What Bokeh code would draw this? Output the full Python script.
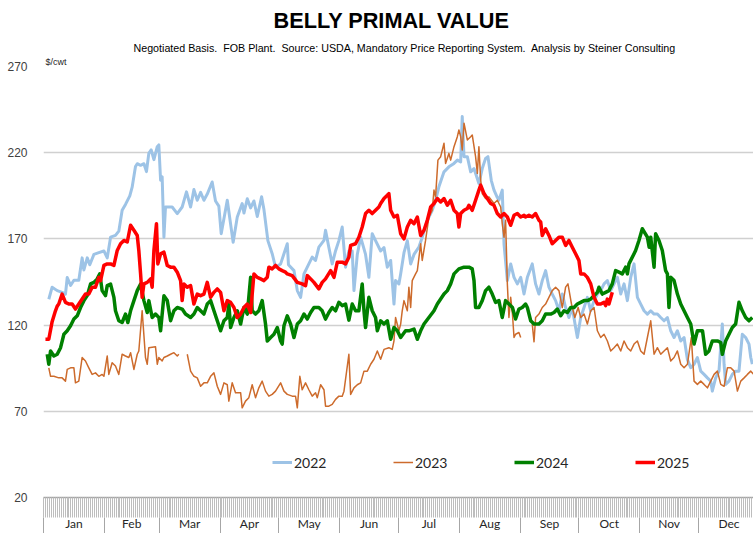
from bokeh.plotting import figure
from bokeh.models import (FixedTicker, LinearAxis, Legend, LegendItem, Title,
                          Range1d, CustomJSTickFormatter)
from bokeh.embed import file_html
from bokeh.resources import INLINE

NaN = float("nan")

# ---------------- data (day of year, $/cwt) ----------------
months = ["Jan", "Feb", "Mar", "Apr", "May", "Jun", "Jul", "Aug", "Sep", "Oct", "Nov", "Dec"]
month_starts = [0, 31, 59, 90, 120, 151, 181, 212, 243, 273, 304, 334, 365]
y_ticks = [20, 70, 120, 170, 220, 270]

d2022 = [2.7, 4.4, 7.0, 9.5, 11.2, 12.1, 13.8, 15.5, 18.0, 19.7, 20.6, 22.3, 23.6, 25.7, 28.2, 30.8, 32.5, 34.2,
         36.7, 38.4, 40.1, 41.8, 44.0, 45.2, 46.9, 47.8, 49.5, 51.2, 52.5, 53.7, 54.9, 56.3, 58.0, 58.8, 59.7, 60.5,
         61.4, 62.2, 65.6, 68.2, 70.7, 72.9, 75.0, 76.7, 78.4, 80.1, 81.8, 83.5, 86.0, 87.7, 89.4, 90.6, 93.7, 96.7,
         98.8, 101.3, 102.2, 103.9, 105.6, 107.3, 109.0, 111.2, 112.4, 114.4, 116.6, 118.3, 120.9, 122.6, 124.3,
         124.9, 127.7, 129.4, 131.1, 132.8, 135.3, 137.0, 138.7, 140.4, 143.0, 143.8, 145.5, 147.2, 148.9, 150.6,
         152.3, 154.0, 155.7, 157.4, 158.3, 160.0, 161.7, 164.2, 165.9, 167.6, 169.3, 171.9, 173.6, 175.3, 177.0,
         178.7, 179.5, 181.2, 182.1, 183.8, 185.5, 187.2, 188.9, 191.4, 193.1, 195.7, 198.2, 199.9, 201.6, 204.2,
         206.7, 209.3, 211.0, 212.7, 213.5, 214.4, 216.1, 217.8, 219.5, 222.0, 223.7, 225.4, 226.6, 228.3, 229.7,
         231.4, 232.2, 233.9, 234.8, 236.5, 238.2, 239.9, 241.6, 243.3, 245.0, 246.7, 249.2, 250.9, 252.6, 254.3,
         256.0, 257.7, 259.4, 261.1, 262.8, 264.5, 266.2, 267.9, 269.6, 271.3, 272.2, 273.9, 275.6, 277.3, 279.0,
         280.7, 282.4, 284.1, 285.8, 287.5, 289.2, 290.9, 292.6, 294.3, 296.0, 297.7, 299.4, 301.1, 302.8, 304.5,
         306.2, 307.9, 309.6, 311.3, 313.0, 314.7, 316.4, 318.1, 319.8, 321.5, 323.2, 324.9, 326.6, 328.3, 330.0,
         331.7, 333.4, 335.1, 336.8, 338.5, 340.2, 341.0, 342.7, 344.4, 346.1, 347.0, 347.8, 349.5, 351.2, 352.9,
         354.6, 356.3, 358.0, 359.7, 360.6, 361.4]
v2022 = [135, 142, 140, 139, 138, 147.6, 143, 146, 146, 159, 152, 159, 155, 161, 162, 163, 159, 171,
         172, 174.5, 186.6, 190, 195, 200, 212, 213.6, 212.7, 213.6, 209, 219.6, 221.6, 216, 223.5, 224.5, 204, 206,
         171, 188.5, 188.5, 184.7, 188.5, 197.3, 188.5, 198.6, 192.4, 197, 192.4, 196, 203, 192, 189, 173, 192.4, 168,
         182.7, 190.5, 185, 193.3, 188, 192, 183, 194.4, 187, 169, 161.4, 153.6, 155.5, 161.4, 167.2,
         155, 151.6, 140, 136.1, 149.7, 155.5, 159.4, 157.5, 165.2, 169.1, 175, 165, 155.5, 163, 169,
         176.9, 153.6, 163, 163, 140, 161, 171, 161, 147.7, 173, 169, 163, 165, 153.6, 157.5,
         132.2, 145.8, 143.9, 149.7, 162, 169, 155.5, 161, 165.2, 171, 180.8, 186.6, 192.4, 200.2, 208.9,
         211.8, 213.8, 215.7, 214.7, 241, 217.7, 217.7, 208.9, 210.8, 202.1, 210.8, 216.7, 217.7, 204, 198.3,
         194, 192.4, 198.3, 167, 145.8, 155.5, 147.7, 143.9, 147.7, 138, 147.7, 155.5, 143.9, 138, 145.8,
         151.6, 142, 138, 134.2, 128.3, 138, 130.2, 124.4, 130.2, 118.6, 112.8, 124.4, 130.2, 136.1, 128.3,
         134.2, 138, 140, 143.9, 145.8, 140, 143.9, 147.7, 138, 143.9, 134.2, 147.7, 155.5, 136.1, 132.2,
         128.3, 126.4, 128.3, 126.4, 126.4, 124.4, 122.5, 124.4, 116.7, 112.8, 116.7, 110.8, 112.8, 100, 95.3,
         97.3, 101.2, 93.3, 91.4, 89.4, 87.5, 81.7, 89.4, 93.3, 120.6, 97.3, 85.6, 87.5, 91.4, 93.3,
         93.3, 114.7, 112.8, 109, 101.2, 97.3]

d2023 = [2.7, 3.6, 5.3, 7.8, 9.5, 11.2, 12.1, 13.8, 15.5, 16.3, 18.0, 19.7, 21.4, 23.1, 24.8, 26.5, 28.2, 29.9,
         30.8, 32.5, 33.3, 35.0, 36.7, 38.4, 40.1, 41.8, 43.5, 44.4, 46.1, 47.8, 48.6, 50.3, 52.0, 52.9, 53.7, 57.1,
         58.0, 58.8, 60.5, 61.4, 63.1, 64.8, 66.5, 68.2, 69.0, 71.0, 73.3, 75.0, 76.7, 78.4, 80.1, 81.8, 83.5, 85.2,
         86.9, 88.6, 90.3, 92.0, 93.7, 94.5, 96.2, 97.9, 100.5, 101.3, 103.0, 104.7, 106.4, 108.1, 109.8, 111.5,
         113.2, 114.9, 116.6, 118.3, 120.9, 122.6, 124.3, 126.8, 128.5, 129.4, 130.7, 131.9, 133.6, 135.3, 137.0,
         138.7, 139.6, 141.3, 143.0, 143.8, 145.5, 147.2, 148.9, 150.6, 152.3, 153.2, 155.7, 156.6, 158.3, 160.0,
         161.7, 163.4, 165.1, 166.8, 168.5, 170.2, 171.9, 173.6, 176.1, 177.8, 178.7, 179.5, 181.2, 182.1, 182.9,
         183.8, 185.5, 186.3, 187.2, 188.0, 189.7, 190.6, 192.3, 193.1, 194.8, 196.5, 198.2, 199.1, 199.9, 201.1,
         202.5, 204.2, 205.0, 206.7, 207.6, 209.3, 211.0, 211.8, 212.7, 213.5, 214.4, 216.1, 217.8, 218.6, 220.3,
         221.2, 222.0, 222.9, 223.7, 225.4, 227.1, 229.7, 231.4, 233.1, 233.9, 234.8, 235.6, 236.5, 237.3, 238.2,
         239.1, 239.9, 240.7, 242.4, 243.3, 246.0, 249.2, 250.1, 250.9, 252.6, 254.3, 256.0, 257.7, 259.4, 261.1,
         262.8, 264.5, 266.2, 267.4, 269.2, 270.9, 272.6, 273.9, 275.6, 277.3, 279.0, 280.7, 282.4, 284.1, 285.8,
         287.5, 289.2, 290.9, 292.6, 294.3, 296.0, 297.7, 299.4, 301.1, 302.8, 304.5, 306.2, 307.9, 309.6, 311.3,
         313.0, 314.7, 316.4, 318.1, 319.8, 321.5, 323.2, 324.9, 326.6, 328.3, 330.3, 331.7, 333.4, 335.1, 336.8,
         338.5, 340.2, 341.9, 343.6, 345.3, 347.0, 348.7, 350.4, 352.1, 353.8, 355.5, 357.2, 358.9, 360.6, 362.1]
v2023 = [95.2, 90.3, 90.3, 89.4, 89.4, 87.5, 94.3, 95.2, 95.2, 86.5, 87.5, 101.2, 99.2, 95.2, 91.4, 92.3, 90.3, 91.4,
         90.3, 102.1, 91.4, 98.2, 96.3, 91.4, 103.1, 102.1, 101.2, 104, 94.3, 103.1, 105, 128.3, 101.2, 97.3, 106.9, 107.5,
         97.3, 101.2, 99.2, 101.2, 102.1, 103.1, 104, 102.1, 103.1, NaN, 103.1, 93.3, 90.3, 89.4, 84.5, 86.5, 86.5, 90.3,
         92.3, 84.5, 79.8, 86.5, 85.4, 75.9, 86.5, 80.8, 80.8, 72, 75.9, 77.9, 85.4, 77.9, 83.6, 87.5,
         81.7, 78.8, 79.8, 81.7, 86.5, 81.7, 79.8, 78.8, 78.8, 72, 90.3, 82.5, 86.5, 82.5, 78.8,
         80.8, 77.9, 85.4, 82.5, 73, 73, 74, 76.9, 78.8, 78.8, 81.7, 103.1, 79.8, 83.6, 85.4,
         86.5, 93.3, 93.3, 97.3, 100.2, 105, 100.2, 105.9, 106.9, 105.9, 110.8, 124.4, 116.7, 120.6, 128.3,
         134.2, 128.3, 141.9, 130.2, 145.8, 149.7, 151.6, 167.2, 157.5, 169.1, 182.7, 186.6, 198.3, 194.4, 215.7,
         217.7, 225.5, 213.8, 219.6, 215.7, 223.5, 229.3, 233.2, 229.3, 221.6, 237.1, 227.4, 229.3, 230.3, 217.7,
         208, 223.5, 204.1, 196.3, 193.4, 194.4, 190.5, 192.4, 188.5, 178.8, 171, 180.8, 143.8, 124.4, 136.1,
         126.4, 112.8, 114.7, 115.7, 112.8, NaN, 120.6, 110.3, 124.4, 126.4, 130.2, 132.2, 136.1, 140, 142,
         140, 130.2, 142, 143.9, 132.2, 124.4, 130.2, 124.4, 126.4, 120.6, 128.3, 130.2, 116.7, 112.8, 114.7,
         110.8, 105, 106.9, 109, 105, 110.8, 106.9, 105, 109, 110.8, 105, 103.1, 112.8, 122.5, 103.1,
         106.9, 103.1, 105, 106.9, 99.2, 101.2, 105, 97.3, 95.3, 97.3, 112.8, 87.5, 85.6, 87.5, 85.6,
         83.6, 87.5, 91.4, 93.3, 85.6, 84.5, 95.3, 95.3, 93.3, 81.7, 87.5, 89.4, 91.4, 93.3, 91.4]

d2024 = [1.9, 2.7, 3.6, 5.3, 7.0, 8.7, 10.4, 12.1, 13.8, 15.5, 17.2, 18.9, 20.6, 22.3, 24.0, 25.7, 27.4, 28.7, 29.9,
         31.6, 32.5, 34.2, 35.9, 36.7, 38.4, 40.1, 41.8, 43.0, 44.4, 46.1, 47.8, 49.5, 51.2, 52.9, 53.7, 55.4, 57.1,
         58.8, 59.7, 61.4, 63.1, 64.8, 66.5, 68.2, 70.7, 72.4, 75.0, 76.7, 78.4, 80.1, 81.8, 83.5, 85.2, 86.9, 88.6,
         90.3, 92.0, 93.7, 94.5, 95.4, 97.1, 98.8, 100.5, 102.2, 103.9, 105.6, 106.4, 108.1, 109.8, 111.5, 113.2,
         114.1, 115.8, 117.5, 119.2, 120.9, 121.7, 122.6, 124.3, 126.0, 127.7, 129.4, 131.1, 132.8, 134.5, 136.2,
         137.9, 140.4, 142.1, 143.8, 145.5, 147.2, 148.9, 150.6, 152.3, 154.0, 155.7, 157.4, 159.1, 160.8, 162.5,
         163.4, 164.2, 165.9, 167.6, 169.3, 170.2, 171.9, 173.6, 175.3, 177.0, 178.7, 180.4, 182.1, 184.6, 186.3,
         188.9, 190.6, 192.3, 194.0, 196.5, 199.1, 200.8, 202.5, 204.2, 205.9, 207.6, 209.3, 211.8, 214.4, 216.9,
         218.6, 219.5, 220.3, 222.0, 223.7, 225.4, 227.1, 228.8, 230.5, 232.2, 233.9, 235.6, 237.3, 239.1, 240.7,
         242.4, 244.1, 245.8, 246.7, 248.4, 250.1, 252.6, 254.3, 256.0, 258.6, 260.3, 262.0, 263.7, 265.4, 267.1,
         268.8, 270.5, 272.2, 273.9, 275.6, 277.3, 279.0, 280.7, 282.4, 283.2, 284.9, 286.6, 288.3, 290.0, 291.7,
         293.4, 295.1, 296.8, 297.7, 298.5, 301.1, 301.9, 303.6, 305.3, 307.9, 308.8, 309.6, 311.3, 312.1, 313.8,
         315.5, 317.2, 318.1, 318.9, 319.8, 321.5, 323.2, 324.9, 326.6, 328.3, 330.0, 331.7, 333.4, 336.0, 337.6,
         339.3, 341.0, 343.6, 345.3, 346.1, 347.8, 349.5, 351.2, 352.9, 354.6, 356.3, 358.0, 359.7, 361.4]
v2024 = [103.1, 97.3, 105, 102.1, 103.1, 106.9, 114.7, 116.7, 119.6, 123.5, 125.4, 130.2, 134.2, 137.1, 143.9, 144.8, 146.8, 149.7, 140,
         137.1, 142.9, 143.8, 136.1, 128.3, 122.5, 121.5, 126.4, 121.5, 128.3, 134.2, 140, 143.8, 134.2, 127.3, 134.2, 124.4, 126.4,
         124.4, 116.7, 137, 134.2, 122.5, 128.3, 130.2, 129.3, 126.4, 124.4, 126.4, 130.2, 128.3, 126.4, 132.2, 134.2, 128.3, 122.5,
         116.7, 122.5, 124.4, 132.2, 118.6, 124.4, 128.3, 120.6, 130.2, 126.4, 147.7, 128.3, 126.4, 128.3, 134.2, 120.6,
         110.8, 112.8, 114.7, 118.6, 110.8, 109, 119.6, 125.4, 120.6, 112.8, 120.6, 122.5, 126.4, 123.5, 127.3,
         130.2, 130.2, 128.3, 123.5, 127.3, 130.2, 128.3, 133.2, 131.3, 132.2, 122.9, 132.2, 128.3, 128.3, 143.8,
         128.3, 118.6, 136.1, 128.3, 124.4, 116.7, 122.5, 120.6, 122.5, 111.8, 118.6, 116.7, 112.8, 116.7, 116.7,
         117.7, 111.8, 116.7, 120.6, 124.4, 128.3, 132.2, 135.1, 138, 140, 143.9, 149.7, 152.6, 153.6, 153.6,
         152.6, 145.8, 130.2, 130.2, 134.2, 140, 142, 138, 133.2, 134.2, 124.4, 134.2, 132.2, 130.2, 123.5,
         129.3, 130.2, 132.2, 130.2, 122.5, 120.6, 120.6, 122.5, 126.4, 126.4, 127.3, 129.3, 125.4, 128.3, 127.3,
         130.2, 130.2, 132.2, 133.2, 134.2, 134.2, 135.1, 137, 139, 142, 138, 139, 140, 143.9, 151.6,
         150.7, 149.7, 153.6, 149.7, 155.5, 161.4, 163.3, 169.1, 175.9, 171, 165.2, 171, 153.6, 173, 169.1,
         163.3, 151.6, 149.7, 130.2, 147.7, 145.8, 138, 132.2, 128.3, 124.4, 120.6, 109, 116.7, 116.7, 103.1,
         105, 110.8, 110.8, 109.9, 103.1, 110.8, 114.7, 118.6, 120.6, 133.2, 128.3, 124.4, 122.5, 124.4]

d2025 = [1.0, 2.7, 4.4, 6.1, 7.0, 7.8, 9.5, 11.2, 12.9, 14.6, 16.3, 18.0, 19.7, 21.4, 23.1, 24.8, 26.5, 28.2, 29.1,
         30.8, 32.5, 34.2, 35.9, 37.6, 39.3, 41.0, 42.7, 44.4, 46.1, 47.8, 48.6, 49.5, 50.3, 51.2, 52.9, 54.6, 55.4,
         56.3, 57.6, 58.3, 59.7, 61.4, 63.1, 64.8, 66.5, 68.2, 69.9, 70.7, 71.6, 73.3, 75.0, 76.7, 78.4, 80.1, 81.8,
         83.5, 85.2, 86.9, 88.6, 90.3, 92.0, 93.7, 95.4, 97.1, 98.8, 100.5, 102.2, 103.9, 105.6, 107.3, 109.0, 110.7,
         112.4, 114.1, 114.9, 116.6, 118.3, 120.0, 121.7, 123.4, 124.3, 126.8, 129.4, 131.9, 133.6, 134.5, 136.2,
         137.9, 140.4, 142.1, 143.8, 146.4, 148.1, 149.8, 152.3, 154.0, 155.7, 156.6, 159.1, 160.8, 162.5, 164.2,
         165.9, 167.6, 169.3, 171.0, 171.9, 173.6, 175.3, 176.1, 177.0, 178.7, 180.4, 182.1, 183.8, 185.5, 187.2,
         188.9, 190.6, 192.3, 194.0, 195.7, 197.4, 199.1, 200.8, 202.5, 204.2, 205.9, 207.6, 209.3, 211.0, 211.8,
         212.7, 214.4, 216.1, 216.9, 218.6, 220.3, 222.0, 222.9, 224.6, 226.3, 228.0, 229.7, 231.4, 233.1, 234.8,
         236.5, 238.2, 239.9, 241.6, 243.3, 245.0, 245.8, 247.5, 249.2, 250.9, 252.6, 253.5, 254.3, 256.0, 257.7,
         259.4, 261.1, 262.8, 264.5, 266.2, 267.9, 269.6, 271.3, 273.0, 273.9, 275.6, 277.3, 279.0, 280.7, 282.4,
         284.1, 285.8, 286.6, 287.5, 288.3, 290.0]
v2025 = [111.8, 111.8, 122, 128.3, 131, 132.2, 138, 133.2, 132.2, 132.2, 129.3, 132.2, 135.1, 138, 138, 142, 142, 147.7, 145.8,
         154.6, 155.5, 155.5, 154.6, 163.3, 167.2, 169.1, 168.2, 177.9, 175, 172, 163.3, 149.7, 136.1, 143.9, 144.8, 146.8, 142,
         163.3, 178.8, 155.5, 161.4, 162.3, 154.6, 153.6, 153.6, 150.7, 145.8, 134.2, 143.9, 142, 142.9, 132.2, 138, 137.1, 138,
         144.8, 136.1, 139, 141, 139, 128.3, 134.2, 133.2, 130.2, 124.4, 126.4, 130.2, 132.2, 127.3, 149.7, 147.7, 146.8,
         145.8, 147.7, 153.6, 152.6, 154.6, 152.6, 151.6, 150.7, 149.7, 148.7, 144.8, 143.9, 142.9, 148.7, 146.8,
         144.8, 141, 144.8, 146.8, 151.6, 147.7, 156.5, 156.5, 155.5, 159.4, 166.2, 167.2, 171, 176.9, 184.7,
         186.6, 184.7, 186.6, 188.5, 190.5, 193.4, 195.3, 196.3, 186.6, 182.7, 183.7, 173, 170, 176.9, 180.8,
         178.8, 182.7, 172, 175, 180.8, 188.5, 190.5, 193.4, 191.4, 193.4, 189.5, 192.4, 186.6, 184.7, 176.9,
         184.7, 186.6, 187.6, 189.5, 186.6, 192.4, 198.3, 201.2, 196.3, 193.4, 190.5, 189.5, 184.7, 182.7, 184.7,
         182.7, 177.9, 183.7, 184.7, 182.7, 183.7, 182.7, 183.7, 182.7, 184.7, 180.8, 179.8, 172, 175.9, 172,
         167.2, 169.1, 171, 171, 166.2, 169.1, 165.2, 161.4, 157.5, 149.7, 149.7, 147.7, 143.9, 136.1, 132.2,
         132.2, 133.2, 131.3, 135.1, 132.2, 139]

series = [("2022", d2022, v2022, "#9DC3E6", 3.0),
          ("2023", d2023, v2023, "#CD6B2C", 1.5),
          ("2024", d2024, v2024, "#008000", 3.5),
          ("2025", d2025, v2025, "#FF0000", 3.5)]

# ---------------- figure ----------------
p = figure(width=753, height=533, x_range=Range1d(0, 362), y_range=Range1d(20, 270),
           output_backend="svg", toolbar_location=None, x_axis_location=None,
           min_border_left=43, min_border_right=0, min_border_top=0, min_border_bottom=0,
           title="BELLY PRIMAL VALUE")
p.outline_line_color = None
p.background_fill_color = "white"

p.title.text_font = "Liberation Sans"
p.title.text_font_size = "21.7px"
p.title.text_font_style = "bold"
p.title.align = "left"
p.title.offset = 230
p.title.text_color = "black"
p.title.standoff = 11

NB = "\u00a0"
sub_text = ("Negotiated Basis." + NB + " FOB Plant." + NB + " Source: USDA, Mandatory Price Reporting System."
            + NB + " Analysis by Steiner Consulting")
sub = Title(text=sub_text, text_font="Liberation Sans", text_font_size="10.7px", text_font_style="normal",
            align="left", offset=90, text_color="black", standoff=2)
cwt = Title(text="$/cwt", text_font="Liberation Sans", text_font_size="9px", text_font_style="normal",
            align="left", offset=2, text_color="#262626", standoff=0)
p.add_layout(cwt, "above")
p.add_layout(sub, "above")

# y axis
p.yaxis.ticker = FixedTicker(ticks=y_ticks)
p.yaxis.axis_line_color = None
p.yaxis.major_tick_line_color = None
p.yaxis.minor_tick_line_color = None
p.yaxis.major_label_standoff = 10
p.yaxis.major_label_text_font = "Liberation Sans"
p.yaxis.major_label_text_font_size = "12px"
p.yaxis.major_label_text_color = "#404040"

p.ygrid.ticker = FixedTicker(ticks=y_ticks)
p.ygrid.grid_line_color = "#D0D0D0"
p.ygrid.grid_line_width = 1.5
p.xgrid.visible = False

# x axis: daily tick band (minor ticks only, no labels)
day_axis = LinearAxis(ticker=FixedTicker(ticks=[], minor_ticks=list(range(0, 366))),
                      major_tick_out=20, major_tick_in=0, major_tick_line_color=None,
                      minor_tick_out=20, minor_tick_in=0, minor_tick_line_color="#BDBDBD",
                      minor_tick_line_width=1, axis_line_color="#A6A6A6", axis_line_width=1.5,
                      major_label_standoff=0)
p.add_layout(day_axis, "below")

centers = [(month_starts[i] + month_starts[i + 1]) / 2 for i in range(12)]
month_axis = LinearAxis(ticker=FixedTicker(ticks=centers, minor_ticks=month_starts),
                        formatter=CustomJSTickFormatter(args=dict(names=months), code="return names[index];"),
                        major_tick_out=0, major_tick_in=0, major_tick_line_color=None,
                        minor_tick_out=17, minor_tick_in=0,
                        minor_tick_line_color="#A6A6A6", axis_line_color=None,
                        major_label_standoff=-19, major_label_text_font="Lato",
                        major_label_text_font_size="12px", major_label_text_color="#262626")
p.add_layout(month_axis, "below")

renderers = []
for name, d, v, col, w in series:
    r = p.line(d, v, line_color=col, line_width=w, line_join="round")
    renderers.append((name, r))

legend = Legend(items=[LegendItem(label=n, renderers=[r]) for n, r in renderers],
                orientation="horizontal", location=(229, 25), glyph_width=20, glyph_height=20,
                label_standoff=2, label_width=35, spacing=64, padding=0, margin=0,
                border_line_color=None, background_fill_alpha=0,
                label_text_font="Lato", label_text_font_size="14px", label_text_color="#262626")
p.add_layout(legend)

open("out.html", "w").write(file_html(p, INLINE))
